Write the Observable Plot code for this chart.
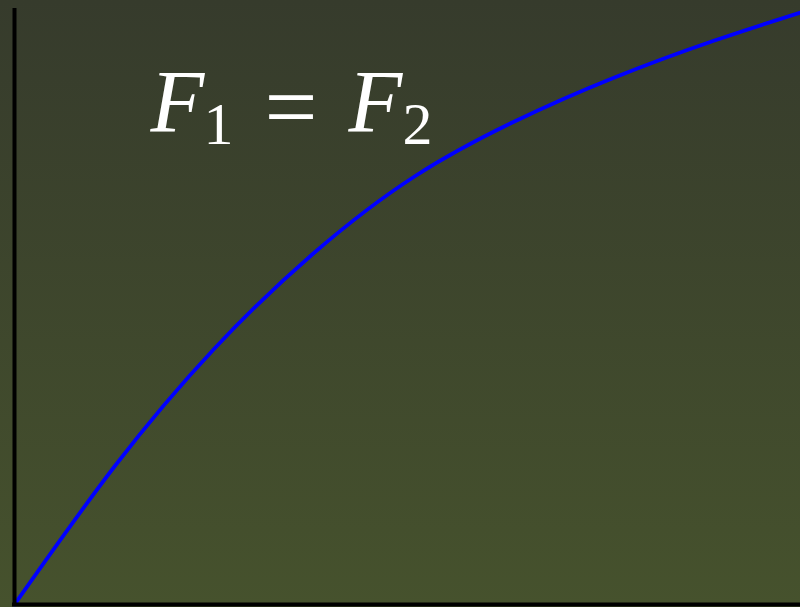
<!DOCTYPE html>
<html>
<head>
<meta charset="utf-8">
<script src="https://cdn.jsdelivr.net/npm/d3@7"></script>
<script src="https://cdn.jsdelivr.net/npm/@observablehq/plot@0.6"></script>
<style>
  html, body { margin: 0; padding: 0; background: #000; }
  #chart svg { display: block; }
</style>
</head>
<body>
<div id="chart"></div>
<script>
// Curve values, in data units
const curveX = [0, 100, 200, 300, 400, 500, 600, 700, 786];
const curveY = [0, 138, 256, 352, 428, 483, 527, 564, 592];
// Axis extents
const xMax = 786;
const yMax = 596;
// Label
const labelParts = ["F", "1", "=", "F", "2"];
const labelPos = {x: 136, y: 474};

const curve = curveX.map((x, i) => ({x, y: curveY[i]}));

const plot = Plot.plot({
  width: 800,
  height: 607,
  margin: 0,
  x: {domain: [0, xMax], range: [14, 800], axis: null},
  y: {domain: [0, yMax], range: [604, 8], axis: null},
  style: {background: "linear-gradient(to bottom, #363b2c, #46522d)", overflow: "visible"},
  marks: [
    Plot.line(curve, {x: "x", y: "y", stroke: "#0000ff", strokeWidth: 3.8, curve: "natural"}),
    Plot.ruleX([0], {y1: 0, y2: yMax, stroke: "#000", strokeWidth: 4}),
    Plot.ruleY([0], {x1: -2, x2: xMax, stroke: "#000", strokeWidth: 4}),
    Plot.text([labelPos], {x: "x", y: "y", text: () => labelParts.join(" "), fill: "#fff",
      fontSize: 88, textAnchor: "start", fontFamily: "Liberation Serif", className: "eq"})
  ]
});

// Typeset the label with subscripts
plot.querySelectorAll(".eq text").forEach(t => {
  t.textContent = "";
  t.setAttribute("dy", "0");
  const ns = "http://www.w3.org/2000/svg";
  const offs = [0, 53, 114, 198, 252];
  const mk = (txt, x, y, opts) => {
    const s = document.createElementNS(ns, "tspan");
    s.textContent = txt;
    s.setAttribute("x", x);
    s.setAttribute("y", y);
    for (const k in opts) s.setAttribute(k, opts[k]);
    t.appendChild(s);
  };
  mk(labelParts[0], offs[0], 0, {"font-style": "italic"});
  mk(labelParts[1], offs[1], 13, {"font-size": "60"});
  mk(labelParts[2], offs[2], 7, {"font-size": "94"});
  mk(labelParts[3], offs[3], 0, {"font-style": "italic"});
  mk(labelParts[4], offs[4], 13, {"font-size": "60"});
});

document.getElementById("chart").appendChild(plot);
</script>
</body>
</html>
